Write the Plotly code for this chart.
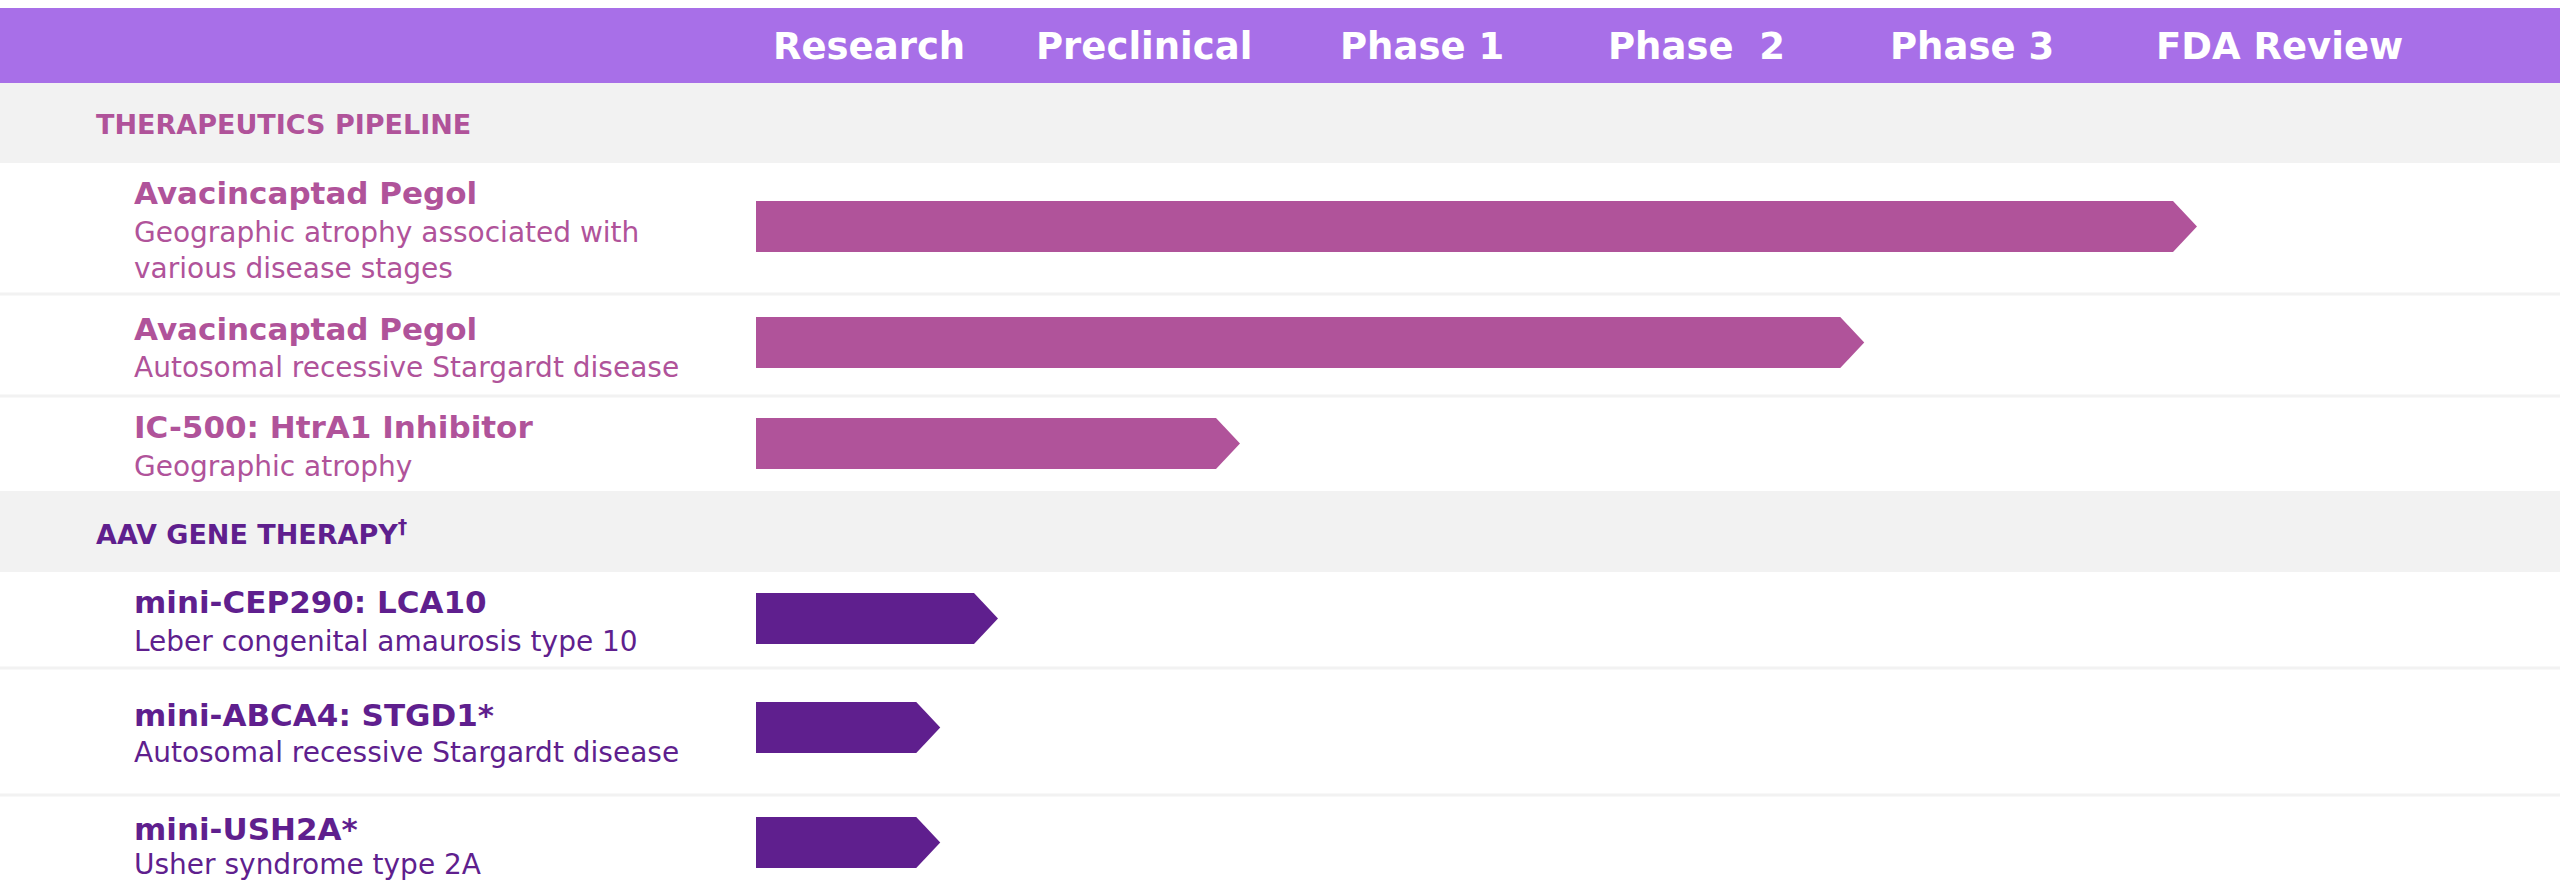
import plotly.graph_objects as go

# ---------------- data ----------------
stages = ["Research", "Preclinical", "Phase 1", "Phase\u00a0 2", "Phase 3", "FDA Review"]
stage_pos = [0.41, 1.41, 2.42, 3.42, 4.42, 5.54]  # header label centres (stage units)

sections = ["THERAPEUTICS PIPELINE", "AAV GENE THERAPY<sup>†</sup>"]

programs = ["Avacincaptad Pegol", "Avacincaptad Pegol", "IC-500: HtrA1 Inhibitor",
            "mini-CEP290: LCA10", "mini-ABCA4: STGD1*", "mini-USH2A*"]
indications = [["Geographic atrophy associated with", "various disease stages"],
               ["Autosomal recessive Stargardt disease"],
               ["Geographic atrophy"],
               ["Leber congenital amaurosis type 10"],
               ["Autosomal recessive Stargardt disease"],
               ["Usher syndrome type 2A"]]
program_section = [0, 0, 0, 1, 1, 1]
progress = [5.24, 4.03, 1.76, 0.88, 0.67, 0.67]  # bar tip, in stage units

# ---------------- style / layout ----------------
W, H = 2560, 888
X0 = 756                     # pixel where bars start
UNIT = 275                   # pixels per stage
HEADER_BG = "#A86FE8"
GRAY = "#F2F2F2"
sec_colors = ["#B0539A", "#5F1F8E"]
FONT = "DejaVu Sans"


def px(xpage):
    return xpage / W


row_mid = [226.5, 342.5, 443.5, 618.5, 727.5, 842.5]
bar_h = 51
title_y = [193, 329, 427, 602, 715, 829]
sub_y = [[232, 268], [367], [466], [641], [752], [864]]
sec_bands = [(83, 163), (491, 572)]
sec_text_y = [124, 532]
sep_lines = [294, 396, 668, 795]
arrow_d = 24 / UNIT

fig = go.Figure()

shapes = []
shapes.append(dict(type="rect", xref="paper", yref="y", x0=0, x1=1, y0=8, y1=83,
                   fillcolor=HEADER_BG, line_width=0, layer="below"))
for (a, b) in sec_bands:
    shapes.append(dict(type="rect", xref="paper", yref="y", x0=0, x1=1, y0=a, y1=b,
                       fillcolor=GRAY, line_width=0, layer="below"))
for yy in sep_lines:
    shapes.append(dict(type="rect", xref="paper", yref="y", x0=0, x1=1, y0=yy - 1.5, y1=yy + 1.5,
                       fillcolor=GRAY, line_width=0, layer="below"))

for i, p in enumerate(progress):
    col = sec_colors[program_section[i]]
    top = row_mid[i] - bar_h / 2
    bot = row_mid[i] + bar_h / 2
    xs = [0, p - arrow_d, p, p - arrow_d, 0, 0]
    ys = [top, top, row_mid[i], bot, bot, top]
    fig.add_trace(go.Scatter(x=xs, y=ys, mode="lines", fill="toself", fillcolor=col,
                             line=dict(width=0, color=col), hoverinfo="skip", showlegend=False))

ann = []
for s, xp in zip(stages, stage_pos):
    ann.append(dict(x=xp, y=46, xref="x", yref="y", text="<b>" + s + "</b>", showarrow=False,
                    xanchor="center", yanchor="middle",
                    font=dict(family=FONT, size=37, color="white")))
for k, s in enumerate(sections):
    ann.append(dict(x=px(94), y=sec_text_y[k], xref="paper", yref="y", text="<b>" + s + "</b>",
                    showarrow=False, xanchor="left", yanchor="middle",
                    font=dict(family=FONT, size=27, color=sec_colors[k])))
for i, name in enumerate(programs):
    col = sec_colors[program_section[i]]
    ann.append(dict(x=px(132), y=title_y[i], xref="paper", yref="y", text="<b>" + name + "</b>",
                    showarrow=False, xanchor="left", yanchor="middle",
                    font=dict(family=FONT, size=31, color=col)))
    for line, yy in zip(indications[i], sub_y[i]):
        ann.append(dict(x=px(132), y=yy, xref="paper", yref="y", text=line,
                        showarrow=False, xanchor="left", yanchor="middle",
                        font=dict(family=FONT, size=28, color=col)))

fig.update_layout(
    width=W, height=H, margin=dict(l=0, r=0, t=0, b=0),
    paper_bgcolor="white", plot_bgcolor="white",
    xaxis=dict(range=[-X0 / UNIT, (W - X0) / UNIT], visible=False, fixedrange=True),
    yaxis=dict(range=[H, 0], visible=False, fixedrange=True),
    shapes=shapes, annotations=ann, showlegend=False,
)

fig.write_html("out.html", config={"displayModeBar": False},
               post_script="document.body.style.margin='0';document.body.style.overflow='hidden';")
